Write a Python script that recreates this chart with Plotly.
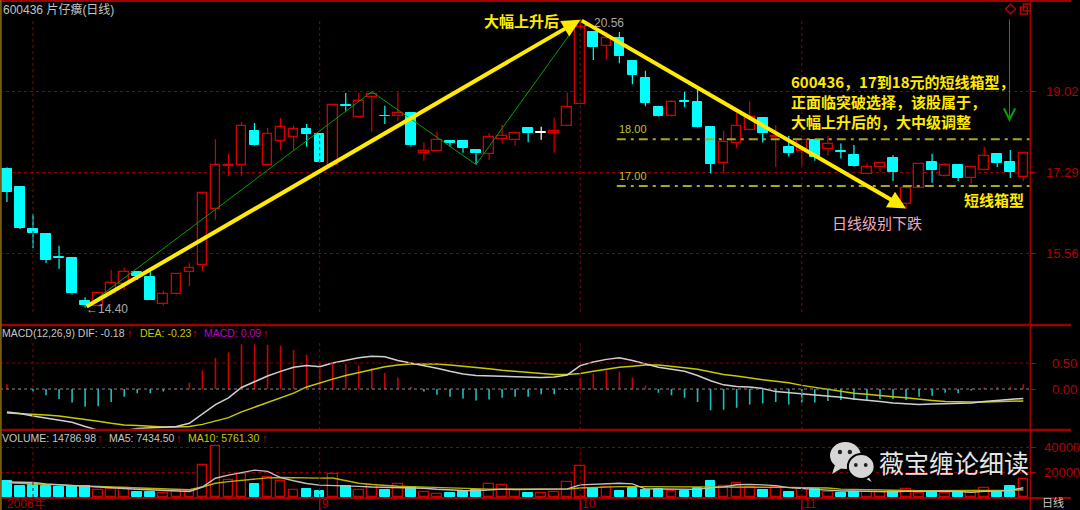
import plotly.graph_objects as go

W, H = 1080, 510

# ---------------- data ----------------
opens = [17.37, 16.97, 16.08, 15.97, 15.47, 15.46, 14.54, 14.44, 14.70, 14.90,
         15.16, 15.05, 14.48, 14.68, 15.15, 15.30, 16.50, 17.43, 17.44, 18.18,
         17.46, 17.96, 18.05, 18.22, 18.11, 17.44, 18.73, 18.47, 18.90, 18.51,
         18.49, 18.57, 17.70, 17.76, 17.96, 17.96, 17.77, 17.69, 18.00, 17.98,
         18.24, 18.14, 18.14, 18.29, 18.76, 20.30, 20.00, 20.18, 19.68, 19.31,
         18.70, 18.49, 18.82, 18.81, 18.26, 17.49, 17.92, 18.19, 18.45, 18.05,
         17.83, 17.74, 17.99, 17.79, 17.75, 17.66, 17.26, 17.40, 17.61, 16.61,
         16.95, 17.52, 17.21, 17.45, 17.17, 17.34, 17.68, 17.52, 17.20]
highs = [17.40, 16.99, 16.40, 15.98, 15.72, 15.48, 14.62, 14.72, 15.20, 15.25,
         15.18, 15.21, 14.76, 15.14, 15.36, 16.87, 18.00, 17.69, 18.37, 18.35,
         18.24, 18.46, 18.29, 18.33, 18.12, 18.76, 18.99, 18.99, 19.02, 18.72,
         19.01, 18.58, 17.94, 18.16, 17.98, 17.97, 17.78, 18.13, 18.31, 18.14,
         18.25, 18.27, 18.47, 19.00, 20.56, 20.32, 20.30, 20.30, 19.69, 19.47,
         18.72, 18.84, 19.02, 19.07, 18.28, 18.19, 18.57, 18.81, 18.46, 18.30,
         18.07, 18.00, 18.00, 18.07, 17.91, 17.88, 17.49, 17.51, 17.66, 16.97,
         17.48, 17.69, 17.49, 17.46, 17.42, 17.84, 17.69, 17.77, 17.71]
lows = [16.66, 16.08, 15.67, 15.35, 15.23, 14.68, 14.40, 14.42, 14.68, 14.77,
        14.99, 14.55, 14.44, 14.66, 14.86, 15.18, 16.28, 17.21, 17.22, 17.87,
        17.45, 17.77, 17.76, 17.84, 17.50, 17.42, 18.61, 18.46, 18.16, 18.33,
        18.40, 17.84, 17.54, 17.75, 17.84, 17.71, 17.46, 17.56, 17.91, 17.87,
        17.94, 17.99, 17.71, 18.28, 18.75, 19.70, 19.71, 19.63, 19.18, 18.71,
        18.49, 18.48, 18.69, 18.25, 17.27, 17.27, 17.81, 18.18, 17.93, 17.41,
        17.63, 17.45, 17.54, 17.66, 17.59, 17.42, 17.25, 17.31, 17.11, 16.52,
        16.94, 17.07, 17.20, 17.11, 17.06, 17.33, 17.41, 17.17, 17.11]
closes = [16.87, 16.11, 15.99, 15.42, 15.45, 14.70, 14.45, 14.70, 14.92, 15.16,
          15.07, 14.55, 14.68, 15.12, 15.24, 16.85, 17.44, 17.46, 18.29, 17.88,
          18.11, 18.26, 18.22, 18.11, 17.51, 18.74, 18.71, 18.83, 18.97, 18.49,
          18.57, 17.87, 17.76, 17.99, 17.93, 17.82, 17.70, 18.05, 18.07, 18.13,
          18.13, 18.14, 18.18, 18.70, 20.40, 19.97, 20.16, 19.78, 19.38, 18.78,
          18.50, 18.81, 18.80, 18.26, 17.47, 17.95, 18.29, 18.47, 18.13, 18.07,
          17.71, 17.99, 17.63, 17.89, 17.73, 17.43, 17.41, 17.50, 17.31, 16.95,
          17.47, 17.34, 17.45, 17.17, 17.41, 17.64, 17.49, 17.31, 17.70]
volumes = [13200, 9100, 10500, 9100, 7700, 9100, 8500, 5800, 6300, 7200,
           4100, 4400, 3000, 5000, 5000, 25600, 40500, 14000, 18200, 10500,
           16000, 13200, 5800, 6300, 5000, 18200, 8500, 5800, 9600, 5800,
           10500, 7700, 4400, 2800, 3600, 5000, 5800, 10500, 9600, 5800,
           3600, 3000, 4400, 11800, 24800, 6900, 7700, 5000, 7200, 5800,
           6300, 5000, 5000, 7200, 13200, 9100, 11000, 8300, 5500, 8300,
           4400, 6300, 6300, 4100, 3000, 4400, 4100, 4400, 5000, 6300,
           3600, 4100, 3600, 4400, 3000, 7200, 4100, 8500, 14786.98]
vol_ma5 = [12000, 11800, 11600, 10500, 9800, 9200, 8800, 7800, 7200, 6800,
           6200, 5600, 5000, 4700, 4400, 8000, 15000, 17500, 19500, 21500,
           20500, 15500, 13000, 10800, 9500, 9300, 9000, 8500, 8000, 7800,
           7700, 7700, 7000, 6200, 5500, 5200, 5000, 5500, 6300, 6000,
           6200, 6300, 6200, 6500, 9700, 10200, 11100, 11000, 10500, 6500,
           6400, 6100, 5900, 6100, 7500, 8100, 9800, 10100, 9700, 9100,
           7500, 6500, 6100, 5500, 4800, 4800, 4500, 4000, 4100, 4500,
           4700, 4700, 4600, 4400, 3800, 4500, 4500, 5400, 7434.50]
vol_ma10 = [11300, 10800, 10300, 9900, 9500, 9100, 8700, 8400, 8100, 7800,
            7500, 7000, 6500, 6100, 5800, 8000, 11000, 12300, 13500, 14300,
            15300, 15600, 15300, 15200, 15100, 15200, 13000, 11000, 10000, 9100,
            8600, 8300, 8000, 7600, 7200, 6800, 6300, 6300, 6300, 6300,
            6200, 5900, 5800, 6400, 7200, 7700, 8300, 8300, 8300, 8200,
            8300, 8300, 8000, 7800, 7700, 7700, 7700, 7800, 7700, 7700,
            7700, 7600, 7400, 7200, 6300, 6000, 5700, 5500, 5300, 5100,
            5000, 5000, 5000, 5000, 5000, 5100, 5200, 5400, 5761.30]
dif = [-0.44, -0.47, -0.52, -0.56, -0.60, -0.64, -0.72, -0.79, -0.81, -0.80,
       -0.76, -0.75, -0.74, -0.72, -0.66, -0.48, -0.30, -0.17, 0.03, 0.14,
       0.25, 0.34, 0.42, 0.45, 0.43, 0.50, 0.55, 0.60, 0.63, 0.62,
       0.55, 0.50, 0.46, 0.40, 0.34, 0.29, 0.26, 0.25, 0.24, 0.23,
       0.22, 0.22, 0.23, 0.27, 0.45, 0.52, 0.57, 0.60, 0.55, 0.48,
       0.42, 0.38, 0.34, 0.26, 0.16, 0.08, 0.05, 0.04, 0.01, -0.05,
       -0.07, -0.09, -0.11, -0.13, -0.16, -0.19, -0.21, -0.24, -0.27, -0.29,
       -0.30, -0.29, -0.28, -0.28, -0.27, -0.24, -0.22, -0.20, -0.18]
dea = [-0.46, -0.47, -0.48, -0.50, -0.52, -0.55, -0.58, -0.62, -0.66, -0.69,
       -0.70, -0.72, -0.73, -0.73, -0.72, -0.68, -0.62, -0.55, -0.44, -0.35,
       -0.26, -0.17, -0.08, 0.04, 0.12, 0.19, 0.26, 0.32, 0.38, 0.43,
       0.46, 0.48, 0.48, 0.48, 0.46, 0.44, 0.42, 0.39, 0.36, 0.34,
       0.31, 0.29, 0.28, 0.28, 0.30, 0.34, 0.38, 0.42, 0.44, 0.46,
       0.46, 0.44, 0.41, 0.38, 0.33, 0.28, 0.25, 0.21, 0.18, 0.15,
       0.12, 0.07, 0.03, -0.01, -0.04, -0.08, -0.10, -0.13, -0.15, -0.17,
       -0.20, -0.22, -0.24, -0.25, -0.25, -0.25, -0.245, -0.235, -0.23]
macd_hist = [0.09, -0.01, -0.05, -0.12, -0.19, -0.26, -0.34, -0.33, -0.25, -0.15,
             -0.08, -0.08, -0.05, 0.02, 0.12, 0.36, 0.60, 0.70, 0.86, 0.86,
             0.85, 0.83, 0.75, 0.66, 0.50, 0.50, 0.48, 0.45, 0.40, 0.31,
             0.22, 0.05, -0.05, -0.11, -0.15, -0.18, -0.22, -0.20, -0.17, -0.15,
             -0.15, -0.10, -0.10, -0.02, 0.21, 0.30, 0.36, 0.33, 0.22, 0.07,
             -0.07, -0.12, -0.17, -0.25, -0.41, -0.40, -0.36, -0.30, -0.28, -0.25,
             -0.30, -0.26, -0.26, -0.23, -0.21, -0.21, -0.22, -0.19, -0.19, -0.21,
             -0.15, -0.13, -0.07, -0.08, -0.03, 0.03, 0.05, 0.05, 0.09]

price_ticks = [15.56, 17.29, 19.02]
macd_ticks = [0.0, 0.5]
vol_ticks = [20000, 40000]
month_grid_idx = [2, 24, 44, 61]
month_label_idx = [0, 24, 44, 61]
month_labels = ["2006年", "9", "10", "11"]
box_levels = [18.00, 17.00]
box_labels = ["18.00", "17.00"]
zigzag_idx = [6, 28, 36, 44, 53]
zigzag_kind = ["L", "H", "L", "H", "H"]
low_mark_idx, high_mark_idx, drop_end_idx = 6, 44, 69

# ---------------- style ----------------
RED = "#d40000"
CYAN = "#00ffff"
CYAN_DARK = "#1fbcbc"
GRID = "#8c0000"
AXIS = "#b00000"
YEL = "#ffea00"
NUM = "Liberation Sans, Arial, sans-serif"
CJK = "Noto Sans CJK SC, sans-serif"

n = len(opens)
idx = list(range(n))


def px(x):
    return x / W


def py(y):
    return 1 - y / H


X_DOM = [0, 1039 / W]
XR = [-7 / 13.14, (1039 - 7) / 13.14]
Y1 = [py(324), py(3)]
Y2 = [py(430), py(326)]
Y3 = [py(497), py(431)]

fig = go.Figure()

# ---------------- price pane ----------------
wick = {RED: ([], []), CYAN: ([], []), "#ffffff": ([], [])}
for i in idx:
    o, h, l, c = opens[i], highs[i], lows[i], closes[i]
    col = RED if c > o else (CYAN if c < o else "#ffffff")
    top, bot = max(o, c), min(o, c)
    xs, ys = wick[col]
    xs += [i, i, None, i, i, None]
    ys += [top, h, None, l, bot, None]
for col, (xs, ys) in wick.items():
    fig.add_trace(go.Scatter(x=xs, y=ys, mode="lines", line=dict(color=col, width=1.2),
                             hoverinfo="skip", xaxis="x", yaxis="y"))

for kind in ("up", "down", "flat"):
    sel = [i for i in idx if (closes[i] > opens[i] if kind == "up" else
                              closes[i] < opens[i] if kind == "down" else closes[i] == opens[i])]
    if not sel:
        continue
    base = [min(opens[i], closes[i]) for i in sel]
    hgt = [max(abs(closes[i] - opens[i]), 0.012) for i in sel]
    if kind == "up":
        mk = dict(color="#000000", line=dict(color=RED, width=1.3))
    elif kind == "down":
        mk = dict(color=CYAN, line=dict(color=CYAN, width=1))
    else:
        mk = dict(color="#ffffff", line=dict(color="#ffffff", width=1))
    fig.add_trace(go.Bar(x=sel, y=hgt, base=base, width=0.74, marker=mk,
                         hoverinfo="skip", xaxis="x", yaxis="y"))

# green zigzag
zz_y = [lows[i] if k == "L" else highs[i] for i, k in zip(zigzag_idx, zigzag_kind)]
fig.add_trace(go.Scatter(x=zigzag_idx, y=zz_y, mode="lines", line=dict(color="#00a000", width=1),
                         hoverinfo="skip", xaxis="x", yaxis="y"))

# ---------------- MACD pane ----------------
pos = ([], [])
neg = ([], [])
for i, v in zip(idx, macd_hist):
    tgt = pos if v >= 0 else neg
    tgt[0].extend([i, i, None])
    tgt[1].extend([0, v, None])
fig.add_trace(go.Scatter(x=pos[0], y=pos[1], mode="lines", line=dict(color="#cc0000", width=1.6),
                         hoverinfo="skip", xaxis="x2", yaxis="y2"))
fig.add_trace(go.Scatter(x=neg[0], y=neg[1], mode="lines", line=dict(color=CYAN_DARK, width=1.6),
                         hoverinfo="skip", xaxis="x2", yaxis="y2"))
fig.add_trace(go.Scatter(x=idx, y=dea, mode="lines", line=dict(color="#c8c800", width=1.5),
                         hoverinfo="skip", xaxis="x2", yaxis="y2"))
fig.add_trace(go.Scatter(x=idx, y=dif, mode="lines", line=dict(color="#d0d0d0", width=1.5),
                         hoverinfo="skip", xaxis="x2", yaxis="y2"))

# ---------------- volume pane ----------------
vup = [i for i in idx if closes[i] >= opens[i]]
vdn = [i for i in idx if closes[i] < opens[i]]
fig.add_trace(go.Bar(x=vup, y=[volumes[i] for i in vup], width=0.74,
                     marker=dict(color="#000000", line=dict(color=RED, width=1.3)),
                     hoverinfo="skip", xaxis="x3", yaxis="y3"))
fig.add_trace(go.Bar(x=vdn, y=[volumes[i] for i in vdn], width=0.74,
                     marker=dict(color=CYAN, line=dict(color=CYAN, width=1)),
                     hoverinfo="skip", xaxis="x3", yaxis="y3"))
fig.add_trace(go.Scatter(x=idx, y=vol_ma10, mode="lines", line=dict(color="#b4b400", width=1.4),
                         hoverinfo="skip", xaxis="x3", yaxis="y3"))
fig.add_trace(go.Scatter(x=idx, y=vol_ma5, mode="lines", line=dict(color="#c0c0c0", width=1.4),
                         hoverinfo="skip", xaxis="x3", yaxis="y3"))

# ---------------- axes ----------------
xcommon = dict(domain=X_DOM, range=XR, showgrid=False, zeroline=False, showticklabels=False,
               showline=False, ticks="", fixedrange=True)
ycommon = dict(side="right", zeroline=False, showline=False, ticks="outside", ticklen=5,
               tickcolor=AXIS, showgrid=True, gridcolor=GRID, griddash="dot", gridwidth=1,
               tickfont=dict(family=NUM, size=13, color="#b40000"), fixedrange=True)
fig.update_layout(
    xaxis=dict(**xcommon, anchor="y"),
    xaxis2=dict(**xcommon, anchor="y2"),
    xaxis3=dict(**xcommon, anchor="y3"),
    yaxis=dict(**ycommon, domain=Y1, range=[14.046, 20.919], anchor="x",
               tickvals=price_ticks, ticktext=[f"{v:.2f}" for v in price_ticks],
               ticklabelstandoff=7),
    yaxis2=dict(**{**ycommon, "showgrid": False}, domain=Y2, range=[-0.788, 1.212], anchor="x2",
                tickvals=macd_ticks, ticktext=[f"{v:.2f}" for v in macd_ticks],
                ticklabelstandoff=13),
    yaxis3=dict(**ycommon, domain=Y3, range=[0, 52800], anchor="x3",
                tickvals=vol_ticks, ticktext=[str(v) for v in vol_ticks],
                ticklabelstandoff=5),
)

shapes = []
# MACD reference lines
shapes.append(dict(type="line", xref="x2 domain", yref="y2", x0=0, x1=1, y0=0.5, y1=0.5,
                   line=dict(color=GRID, width=1, dash="dot")))
shapes.append(dict(type="line", xref="x2 domain", yref="y2", x0=0, x1=1, y0=0, y1=0,
                   line=dict(color="#8a8a8a", width=1.2, dash="dot")))
# month grid lines
for m in month_grid_idx:
    shapes.append(dict(type="line", xref="x", yref="y domain", x0=m, x1=m, y0=0.037, y1=0.953,
                       line=dict(color=GRID, width=1, dash="dot")))
    shapes.append(dict(type="line", xref="x2", yref="y2 domain", x0=m, x1=m, y0=0, y1=0.846,
                       line=dict(color=GRID, width=1, dash="dot")))
    shapes.append(dict(type="line", xref="x3", yref="y3 domain", x0=m, x1=m, y0=0, y1=0.76,
                       line=dict(color=GRID, width=1, dash="dot")))
for m in month_label_idx[1:]:
    shapes.append(dict(type="line", xref="x3", yref="paper", x0=m, x1=m, y0=0, y1=py(498),
                       line=dict(color=AXIS, width=1.5)))
# box (dash-dot) levels
for lv in box_levels:
    shapes.append(dict(type="line", xref="x", yref="y", x0=46.8, x1=XR[1], y0=lv, y1=lv,
                       line=dict(color="#a8a820", width=2, dash="9px,5px,3px,5px")))
# frame lines
for yy, wdt in ((1, 2), (325, 2.5), (430, 2.5), (498, 2)):
    shapes.append(dict(type="line", xref="paper", yref="paper", x0=0, x1=1, y0=py(yy), y1=py(yy),
                       line=dict(color="#a00000", width=wdt)))
shapes.append(dict(type="line", xref="paper", yref="paper", x0=px(1039), x1=px(1039), y0=0, y1=1,
                   line=dict(color="#a00000", width=1.5)))
shapes.append(dict(type="line", xref="paper", yref="paper", x0=px(0.8), x1=px(0.8), y0=0, y1=1,
                   line=dict(color="#7a5a10", width=2)))


def ppath(pts):
    s = "M " + " L ".join(f"{px(a):.5f},{py(b):.5f}" for a, b in pts) + " Z"
    return s


# top-right icons
shapes.append(dict(type="path", xref="paper", yref="paper",
                   path=ppath([(1019, 4), (1024, 9), (1019, 14), (1014, 9)]),
                   line=dict(color="#c00000", width=1.3)))
shapes.append(dict(type="rect", xref="paper", yref="paper", x0=px(1029), x1=px(1036), y0=py(14), y1=py(7),
                   line=dict(color="#c00000", width=1.3)))
shapes.append(dict(type="rect", xref="paper", yref="paper", x0=px(1032), x1=px(1039), y0=py(11), y1=py(4),
                   line=dict(color="#c00000", width=1.3)))

# WeChat logo
LOGO = "#d6d6d6"
shapes.append(dict(type="path", xref="paper", yref="paper",
                   path=ppath([(842, 465), (839, 474), (849, 468)]), fillcolor=LOGO, line=dict(width=0)))
shapes.append(dict(type="circle", xref="paper", yref="paper", x0=px(837), x1=px(868), y0=py(469), y1=py(442),
                   fillcolor=LOGO, line=dict(width=0)))
shapes.append(dict(type="path", xref="paper", yref="paper",
                   path=ppath([(874, 474), (879, 482), (868, 476)]), fillcolor=LOGO, line=dict(width=0)))
shapes.append(dict(type="circle", xref="paper", yref="paper", x0=px(855), x1=px(882), y0=py(479), y1=py(454),
                   fillcolor=LOGO, line=dict(color="#000000", width=2)))
for cx, cy, r in ((847, 452, 2.2), (857, 452, 2.2), (863, 465, 1.9), (873, 465, 1.9)):
    shapes.append(dict(type="circle", xref="paper", yref="paper", x0=px(cx - r), x1=px(cx + r),
                       y0=py(cy + r), y1=py(cy - r), fillcolor="#222222", line=dict(width=0)))

fig.update_layout(shapes=shapes)

# ---------------- annotations ----------------
ann = []


def text(x, y, s, color, size, family=NUM, xanchor="left", yanchor="middle"):
    ann.append(dict(xref="paper", yref="paper", x=px(x), y=py(y), text=s, showarrow=False,
                    xanchor=xanchor, yanchor=yanchor, borderpad=0,
                    font=dict(family=family, size=size, color=color)))


text(2, 10, "600436 片仔癀(日线)", "#c4c4c4", 12, family="Liberation Sans, " + CJK)

# MACD header
HS = 10.5
text(1, 333, "MACD(12,26,9) DIF: -0.18", "#c8c8c8", HS)
text(127, 333, "↑", "#e00000", 11)
text(140, 333, "DEA: -0.23", "#c8c800", HS)
text(193, 333, "↑", "#e00000", 11)
text(205, 333, "MACD: 0.09", "#c000c0", HS)
text(264, 333, "↑", "#e00000", 11)
# volume header
text(1, 438, "VOLUME: 14786.98", "#c8c8c8", HS)
text(97, 438, "↑", "#e00000", 11)
text(109, 438, "MA5: 7434.50", "#c8c8c8", HS)
text(176, 438, "↑", "#e00000", 11)
text(189, 438, "MA10: 5761.30", "#c8c800", HS)
text(263, 438, "↑", "#e00000", 11)

# bottom month labels
for m, lab in zip(month_label_idx, month_labels):
    ann.append(dict(xref="x3", yref="paper", x=m, y=py(503.5), text=lab, showarrow=False,
                    xanchor="left", yanchor="middle", xshift=-1 if m == 0 else 1, borderpad=0,
                    font=dict(family="Liberation Sans, " + CJK, size=12, color="#b00000")))
text(1050, 502, "日线", "#c8c8c8", 11, family=CJK)

# price point labels
ann.append(dict(xref="x", yref="y", x=low_mark_idx, y=lows[low_mark_idx], text=f"←{lows[low_mark_idx]:.2f}",
                showarrow=False, xanchor="left", yanchor="middle", yshift=-2, xshift=-1,
                font=dict(family=NUM, size=12, color="#a8a8a8")))
ann.append(dict(xref="x", yref="y", x=high_mark_idx, y=highs[high_mark_idx], text=f"←{highs[high_mark_idx]:.2f}",
                showarrow=False, xanchor="left", yanchor="middle", yshift=-3, xshift=0,
                font=dict(family=NUM, size=12, color="#a8a8a8")))
for lv, lab in zip(box_levels, box_labels):
    ann.append(dict(xref="x", yref="y", x=46.8, y=lv, text=lab, showarrow=False,
                    xanchor="left", yanchor="bottom", yshift=2,
                    font=dict(family=NUM, size=11, color="#c0c030")))

# yellow arrows
ann.append(dict(xref="x", yref="y", axref="x", ayref="y",
                x=high_mark_idx, y=highs[high_mark_idx], ax=low_mark_idx, ay=lows[low_mark_idx],
                text="", showarrow=True, arrowhead=2, arrowsize=0.9, arrowwidth=4, arrowcolor=YEL,
                standoff=0, startstandoff=0))
ann.append(dict(xref="x", yref="y", axref="x", ayref="y",
                x=drop_end_idx, y=lows[drop_end_idx], ax=high_mark_idx, ay=highs[high_mark_idx],
                text="", showarrow=True, arrowhead=2, arrowsize=0.9, arrowwidth=4, arrowcolor=YEL,
                standoff=0, startstandoff=0))
# green down arrow
ann.append(dict(xref="paper", yref="paper", x=px(1018), y=py(122), ax=0, ay=-104,
                text="", showarrow=True, arrowhead=5, arrowsize=2.2, arrowwidth=1, arrowcolor="#00a000"))

# commentary texts
text(487, 21, "<b>大幅上升后</b>", YEL, 15, family=CJK)
text(797, 82, "<b>600436，17到18元的短线箱型，</b>", YEL, 15, family=CJK)
text(797, 102, "<b>正面临突破选择，该股属于，</b>", YEL, 15, family=CJK)
text(797, 121, "<b>大幅上升后的，大中级调整</b>", YEL, 15, family=CJK)
text(971, 200, "<b>短线箱型</b>", YEL, 15, family=CJK)
text(838, 222, "日线级别下跌", "#f2a9c2", 15, family=CJK)
text(885, 462, "薇宝缠论细读", "#e6e6e6", 25, family=CJK)

fig.update_layout(annotations=ann)

fig.update_layout(width=W, height=H, margin=dict(l=0, r=0, t=0, b=0),
                  paper_bgcolor="#000000", plot_bgcolor="#000000", showlegend=False,
                  barmode="overlay", bargap=0)

fig.write_html("out.html", include_plotlyjs=True, config={"displayModeBar": False},
               post_script="document.body.style.margin='0';document.body.style.overflow='hidden';"
                           "document.body.style.background='#000';")
